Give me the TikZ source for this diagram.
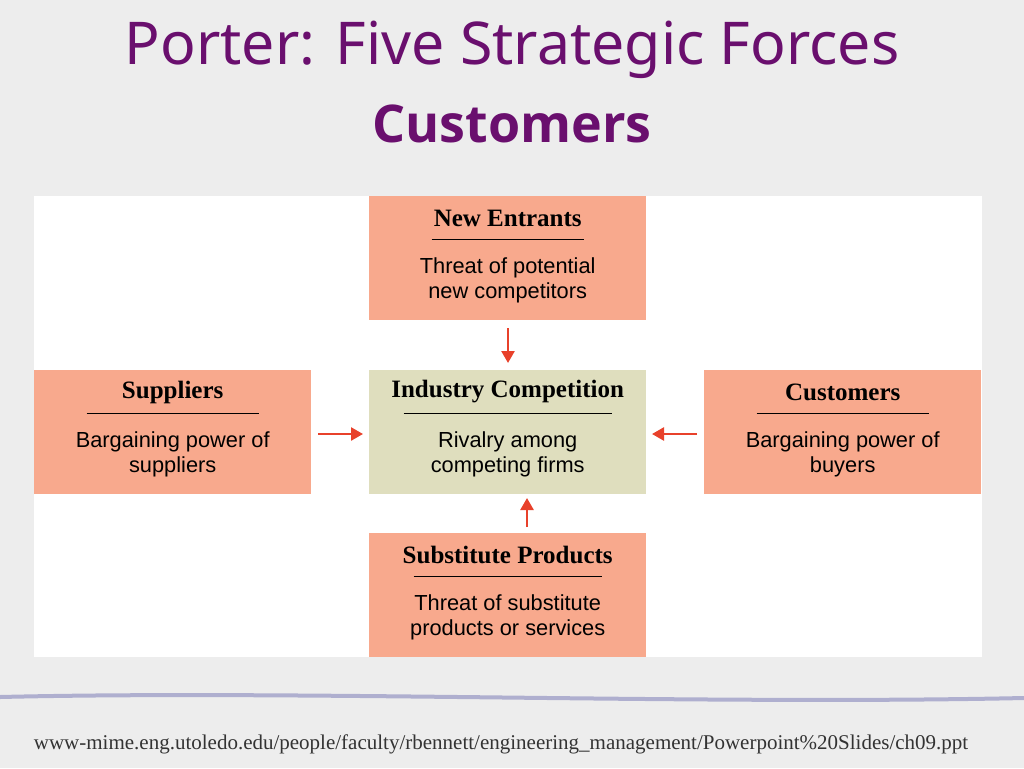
\documentclass[tikz,border=0pt]{standalone}
\usepackage{fontspec}
\setmainfont{Liberation Sans}
\newfontfamily\headf{Liberation Serif}
\newfontfamily\titf{Noto Sans}
\newfontfamily\titb{Open Sans}
\usetikzlibrary{arrows.meta}
\definecolor{salmon}{HTML}{F8A98D}
\definecolor{khaki}{HTML}{DFDEBE}
\definecolor{arr}{HTML}{E8412B}
\definecolor{purp}{HTML}{6A0F6E}
\definecolor{bg}{HTML}{EDEDED}
\tikzset{
 box/.style={fill=#1,minimum width=277pt,minimum height=124pt,anchor=north west,inner sep=0},
 hd/.style={font=\headf\bfseries\fontsize{25}{27}\selectfont},
 bd/.style={font=\fontsize{21.8}{25}\selectfont,align=center},
 ar/.style={arr,line width=2.5pt,-{Triangle[width=13pt,length=12pt]}}
}
\begin{document}
\begin{tikzpicture}[x=1pt,y=-1pt]
\fill[bg] (0,0) rectangle (1024,768);
\useasboundingbox (0,0) rectangle (1024,768);
\fill[white] (34,196) rectangle (982,657);
\node[text=purp,font=\titf\fontsize{59}{62}\selectfont] (t1) at (512,50) {Porter: Five Strategic Forces};
\node[text=purp,font=\titb\bfseries\fontsize{52}{56}\selectfont] (t2) at (512,124) {Customers};
\foreach \n/\x/\y/\c/\h/\w/\a/\b in {ne/369/196/salmon/New Entrants/152/Threat of potential/new competitors,
 su/34/370/salmon/Suppliers/172/Bargaining power of/suppliers,
 ic/369/370/khaki/Industry Competition/208/Rivalry among/competing firms,
 cu/704/370/salmon/Customers/172/Bargaining power of/buyers,
 sp/369/533/salmon/Substitute Products/188/Threat of substitute/products or services}{
 \node[box=\c] (\n) at (\x,\y) {};
 \node[hd] (\n h) at ([yshift=-22]\n.north) {\h};
 \draw[line width=1pt] ([xshift=-\w/2,yshift=-43]\n.north) -- ([xshift=\w/2,yshift=-43]\n.north);
 \node[bd] (\n b) at ([yshift=-84]\n.north) {\a\\\b};
}
\draw[ar] (508,328) -- (508,363);
\draw[ar] (527,527) -- (527,498);
\draw[ar] (318,434) -- (363,434);
\draw[ar] (697,434) -- (652,434);
\draw[line width=4pt,color=blue!25!gray!50] (0,697) .. controls (300,690) and (700,705) .. (1024,698);
\node[font=\headf\fontsize{21}{23}\selectfont,text=black!80] (ft) at (501,744) {www-mime.eng.utoledo.edu/people/faculty/rbennett/engineering\_management/Powerpoint\%20Slides/ch09.ppt};
\end{tikzpicture}
\end{document}
